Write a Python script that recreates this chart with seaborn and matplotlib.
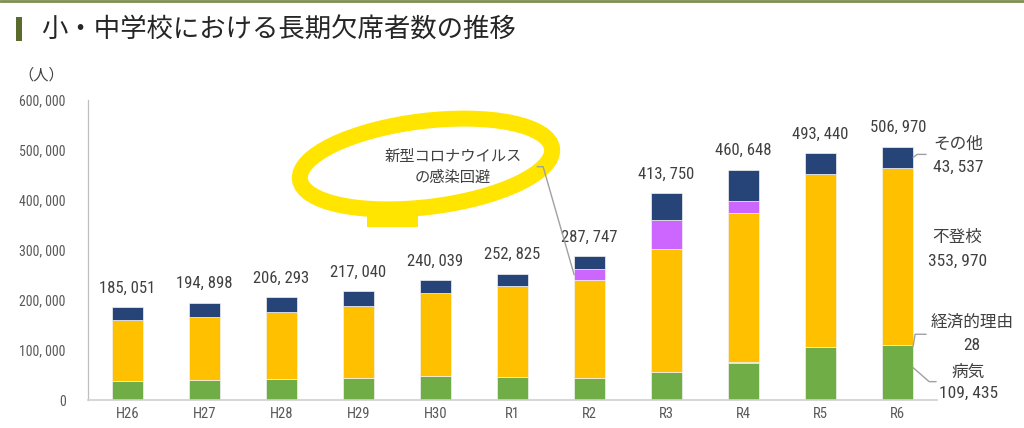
import matplotlib
matplotlib.use("Agg")
import matplotlib.pyplot as plt
import seaborn as sns
import numpy as np
from matplotlib import font_manager as fm
from matplotlib.patches import Ellipse, Rectangle
from matplotlib.lines import Line2D

# ---------------- data ----------------
years = ['H26', 'H27', 'H28', 'H29', 'H30', 'R1', 'R2', 'R3', 'R4', 'R5', 'R6']
totals = [185051, 194898, 206293, 217040, 240039, 252825, 287747, 413750, 460648, 493440, 506970]
byoki = [37300, 40500, 42000, 44500, 48500, 46000, 44000, 56500, 75000, 105800, 109435]
keizai = [40, 40, 30, 30, 30, 20, 20, 20, 20, 20, 28]
futoko = [122897, 125991, 133683, 144031, 164528, 181272, 196127, 244940, 299048, 346482, 353970]
corona = [0, 0, 0, 0, 0, 0, 20905, 59316, 23000, 0, 0]
sonota = [24814, 28367, 30580, 28479, 26981, 25533, 26695, 52974, 63580, 41138, 43537]
yticks = [0, 100000, 200000, 300000, 400000, 500000, 600000]

series_names = ['病気', '経済的理由', '不登校', '新型コロナウイルスの感染回避', 'その他']
series_vals = [byoki, keizai, futoko, corona, sonota]
series_cols = ['#70AD47', '#A5A5A5', '#FFC000', '#CC66FF', '#264478']

title = '小・中学校における長期欠席者数の推移'

# ---------------- fonts ----------------
sns.set_theme(style='white')
names = {f.name for f in fm.fontManager.ttflist}
NUM_STRETCH = 'normal'
if 'Liberation Sans Narrow' in names:
    NUM_FONT = 'Liberation Sans Narrow'
elif 'Roboto Condensed' in names:
    NUM_FONT = 'Roboto Condensed'
else:
    NUM_FONT = 'DejaVu Sans'
    NUM_STRETCH = 'condensed'
JP = 'Noto Sans CJK JP'
plt.rcParams['font.family'] = [JP, 'DejaVu Sans']

TXT = '#404040'
TICK = '#595959'


def fmt(v):
    return f'{v:,}'.replace(',', ', ')


W, H = 1024, 428
fig = plt.figure(figsize=(W / 100, H / 100), dpi=100)
fig.patch.set_facecolor('white')


def fr(x0, y0, x1, y1):
    """pixel box (top-left origin) -> figure fraction rect"""
    return [x0 / W, 1 - y1 / H, (x1 - x0) / W, (y1 - y0) / H]


ax = fig.add_axes(fr(88, 100, 937, 400))

bw = 0.40
cum = np.zeros(len(years))
for name, vals, col in zip(series_names, series_vals, series_cols):
    sns.barplot(x=years, y=vals, bottom=cum, color=col, width=bw, ax=ax,
                errorbar=None, edgecolor='#F2F2F2', linewidth=0.5, saturation=1)
    cum = cum + np.array(vals)

ax.set_xlim(-0.51, len(years) - 0.49)
ax.set_ylim(0, 600000)
ax.set_yticks(yticks)
ax.set_yticklabels([fmt(v) for v in yticks], fontfamily=NUM_FONT,
                   fontstretch=NUM_STRETCH, fontsize=10, color=TICK)
ax.set_xticks(range(len(years)))
ax.set_xticklabels(years, fontfamily=NUM_FONT, fontstretch=NUM_STRETCH,
                   fontsize=10.5, color=TICK)
ax.tick_params(axis='y', direction='in', length=3, width=0.8, color='#BFBFBF', pad=16)
ax.tick_params(axis='x', length=0, pad=5)
for s in ['top', 'right']:
    ax.spines[s].set_visible(False)
ax.spines['left'].set_color('#BFBFBF')
ax.spines['left'].set_linewidth(0.9)
ax.spines['bottom'].set_color('#D0D0D0')
ax.spines['bottom'].set_linewidth(1.2)
ax.set_xlabel('')
ax.set_ylabel('')
ax.grid(False)
ax.set_facecolor('white')

# totals above bars
for i, t in enumerate(totals):
    ax.annotate(fmt(t), xy=(i, t), xytext=(0, 19), textcoords='offset pixels',
                ha='center', va='center', fontsize=12, color=TXT,
                fontfamily=NUM_FONT, fontstretch=NUM_STRETCH)

# ---------------- right-side labels for last bar ----------------
last = len(years) - 1
xr = last + bw / 2


def leader(anchor, offs, **kw):
    p = ax.transData.transform(anchor)
    xs = [p[0] + o[0] for o in offs]
    ys = [p[1] + o[1] for o in offs]
    fig.add_artist(Line2D(xs, ys, transform=None, color='#A0A0A0', lw=1.0, **kw))


def lab(anchor, off, s, num=False):
    kw = dict(fontfamily=NUM_FONT, fontstretch=NUM_STRETCH) if num else {}
    ax.annotate(s, xy=anchor, xytext=off, textcoords='offset pixels',
                ha='center', va='center', fontsize=12.5 if num else 12,
                color=TXT, annotation_clip=False, **kw)


b_, k_, f_, s_ = byoki[last], keizai[last], futoko[last], sonota[last]
a_sono = (xr, b_ + k_ + f_ + s_ / 2)
leader(a_sono, [(0, 0), (4, 3), (13, 3)])
lab(a_sono, (45, 13), 'その他')
lab(a_sono, (45, -10), fmt(s_), num=True)

a_fut = (xr, b_ + k_ + f_ / 2)
lab(a_fut, (44, 19), '不登校')
lab(a_fut, (44, -5), fmt(f_), num=True)

a_kei = (xr, b_ + k_)
leader(a_kei, [(0, -1), (2, 11), (13, 11)])
lab(a_kei, (59, 23), '経済的理由')
lab(a_kei, (59, 0), fmt(k_), num=True)

a_byo = (xr, b_ / 2)
leader(a_byo, [(0, 5), (16, -9), (23, -9)])
lab(a_byo, (55, 0), '病気')
lab(a_byo, (55, -21), fmt(b_), num=True)

# ---------------- corona callout ----------------
r2 = years.index('R2')
a_cor = (r2 - bw / 2, byoki[r2] + keizai[r2] + futoko[r2] + corona[r2] / 2)
leader(a_cor, [(0, 0), (-31, 108), (-37, 108)])
ax.annotate('新型コロナウイルス\nの感染回避', xy=a_cor, xytext=(-121, 108),
            textcoords='offset pixels', ha='center', va='center', fontsize=11,
            color=TXT, linespacing=1.35, annotation_clip=False)

# yellow hand-drawn ring (pixel coords, top-left origin)
YEL = '#FFE500'
fig.add_artist(Ellipse((426, H - 164), 254, 86, angle=7, fill=False,
                       edgecolor=YEL, lw=11.5, transform=None))
fig.add_artist(Rectangle((367, H - 227), 51, 24, facecolor=YEL,
                         edgecolor='none', transform=None))

# ---------------- header ----------------
fig.add_artist(Line2D([0, W], [H - 1, H - 1], transform=None, color='#7F8F4F', lw=2))
fig.add_artist(Rectangle((16, H - 41), 6, 24, facecolor='#5B6B2E',
                         edgecolor='none', transform=None))
fig.text(41 / W, 1 - 30 / H, title, ha='left', va='center', fontsize=19,
         color='#262626')
fig.text(18 / W, 1 - 75 / H, '（人）', ha='left', va='center', fontsize=11,
         color=TXT)

fig.savefig('out.png', dpi=100, facecolor='white')
